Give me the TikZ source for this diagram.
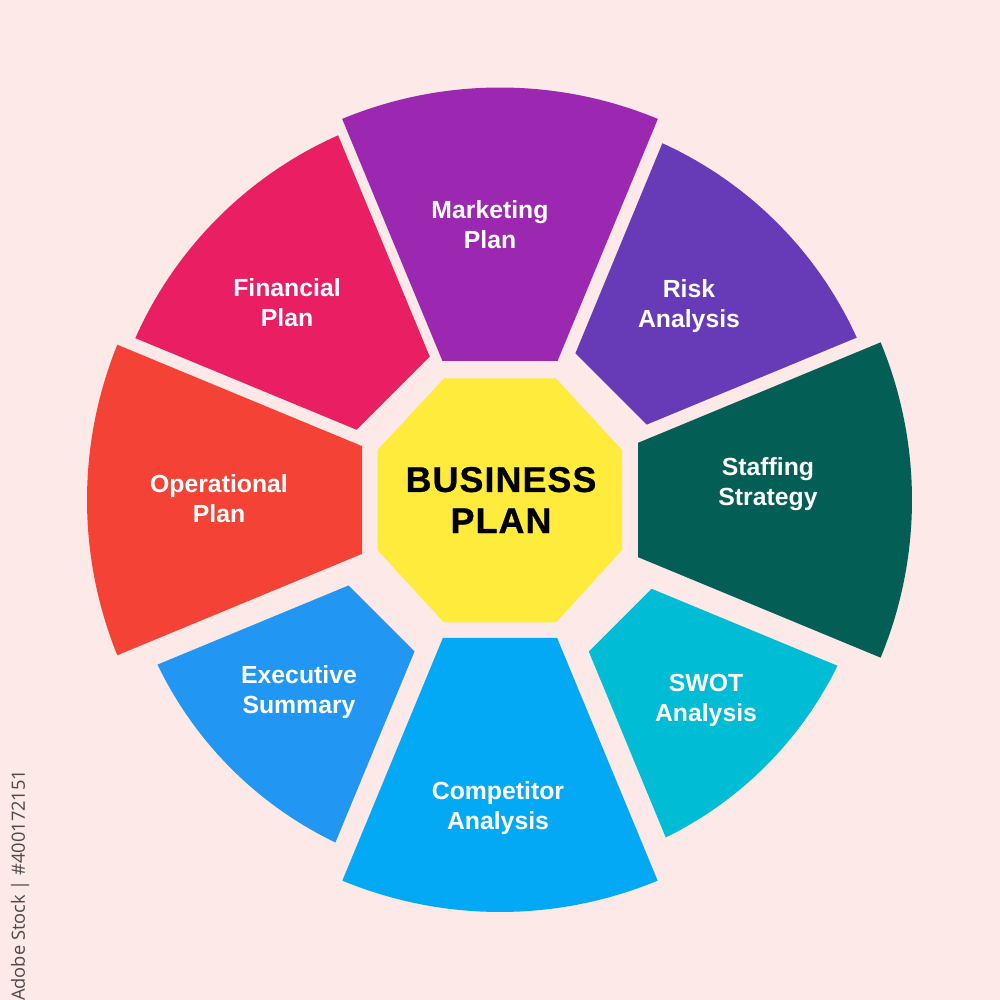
\documentclass[tikz,border=0pt]{standalone}
\usepackage{fontspec}
\setmainfont{Liberation Sans}
\newfontfamily\credfont{Open Sans}
\newfontfamily\hubfont[BoldFeatures={FakeBold=0.8,LetterSpace=3}]{Liberation Sans}
\definecolor{bgpink}{HTML}{FDE9E7}
\definecolor{cmark}{HTML}{9C27B0}
\definecolor{crisk}{HTML}{673AB7}
\definecolor{cstaff}{HTML}{035E55}
\definecolor{cswot}{HTML}{00BCD4}
\definecolor{ccomp}{HTML}{03A9F4}
\definecolor{cexec}{HTML}{2196F3}
\definecolor{coper}{HTML}{F44336}
\definecolor{cfin}{HTML}{E91E63}
\definecolor{cyel}{HTML}{FFEB3B}
\definecolor{ccred}{HTML}{4A4A4A}
\newcommand\wedgeseg[5]{%
  \pgfmathsetmacro\wgb{22.5-asin(#4/#2)}%
  \pgfmathsetmacro\wgy{#3*tan(22.5)-#4/cos(22.5)}%
  \pgfmathsetmacro\wgr{sqrt(#3*#3+\wgy*\wgy)}%
  \pgfmathsetmacro\wgc{atan(\wgy/#3)}%
  \fill[#5] (#1+\wgc:\wgr) -- (#1+\wgb:#2)
     arc[start angle=#1+\wgb, end angle=#1-\wgb, radius=#2]
     -- (#1-\wgc:\wgr) -- cycle;%
}
\tikzset{
  seglabel/.style={text=white, align=center, inner sep=0pt,
     font=\bfseries\fontsize{7.05}{8.5}\selectfont},
  hublabel/.style={text=black, align=center, inner sep=0pt,
     font=\hubfont\bfseries\fontsize{10.2}{11.7}\selectfont},
}
\begin{document}
\begin{tikzpicture}
\useasboundingbox (-5,-5) rectangle (5,5);
\fill[bgpink] (-5,-5) rectangle (5,5);

% sectors: angle, outer radius, inner apothem, side inset, colour
\wedgeseg{90}{4.125}{1.39}{0}{cmark}
\wedgeseg{45}{3.92}{1.57}{0.135}{crisk}
\wedgeseg{0}{4.12}{1.38}{0}{cstaff}
\wedgeseg{-45}{3.76}{1.70}{0.24}{cswot}
\wedgeseg{-90}{4.12}{1.38}{0}{ccomp}
\wedgeseg{-135}{3.80}{1.675}{0.21}{cexec}
\wedgeseg{180}{4.13}{1.38}{0.03}{coper}
\wedgeseg{135}{3.99}{1.51}{0.10}{cfin}

% central octagon
\fill[cyel] (-0.56,1.215) -- (0.56,1.215) -- (1.22,0.50) -- (1.22,-0.50)
  -- (0.56,-1.225) -- (-0.56,-1.225) -- (-1.225,-0.50) -- (-1.225,0.50) -- cycle;

\node[hublabel] (hub) at (0.01,0) {BUSINESS\\PLAN};

\node[seglabel] (mark) at (-0.10,2.75) {Marketing\\Plan};
\node[seglabel] (risk) at (1.89,1.94) {Risk\\Analysis};
\node[seglabel] (staff) at (2.68,0.16) {Staffing\\Strategy};
\node[seglabel] (swot) at (2.06,-2.00) {SWOT\\Analysis};
\node[seglabel] (comp) at (-0.02,-3.08) {Competitor\\Analysis};
\node[seglabel] (exec) at (-2.01,-1.92) {Executive\\Summary};
\node[seglabel] (oper) at (-2.81,0.01) {Operational\\Plan};
\node[seglabel] (fin) at (-2.13,1.97) {Financial\\Plan};

\node[rotate=90, anchor=south east, inner sep=0pt, text=ccred,
      font=\credfont\fontsize{5.2}{6}\selectfont] (cred) at (-4.70,-2.69)
      {Adobe Stock | \#400172151};
\end{tikzpicture}
\end{document}
